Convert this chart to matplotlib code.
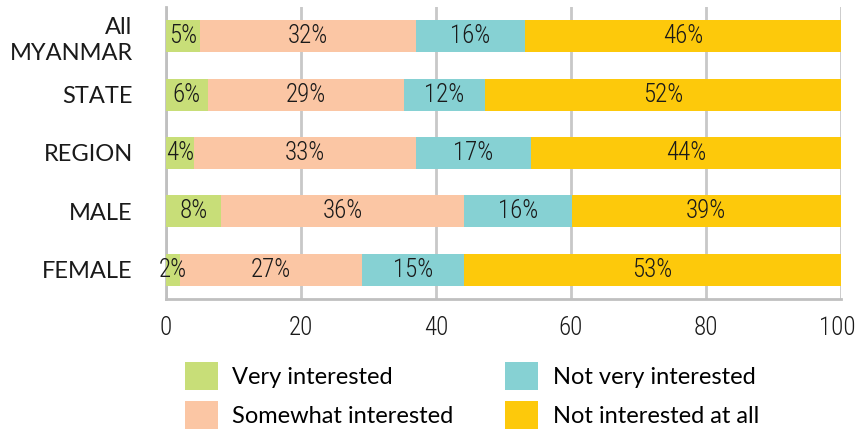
import matplotlib
matplotlib.use("Agg")
import matplotlib.pyplot as plt
import matplotlib.transforms as mtransforms
from matplotlib.patches import Patch
from matplotlib import font_manager as fm
import numpy as np

categories = ["All\nMYANMAR", "STATE", "REGION", "MALE", "FEMALE"]
series_names = ["Very interested", "Somewhat interested", "Not very interested", "Not interested at all"]
very = [5.1, 6.2, 4.2, 8.2, 2.1]
somewhat = [31.9, 29.0, 32.8, 36.0, 27.0]
not_very = [16.2, 12.0, 17.1, 15.9, 15.1]
not_at_all = [46.8, 52.8, 45.9, 39.9, 55.8]
very_lbl = ["5%", "6%", "4%", "8%", "2%"]
somewhat_lbl = ["32%", "29%", "33%", "36%", "27%"]
not_very_lbl = ["16%", "12%", "17%", "16%", "15%"]
not_at_all_lbl = ["46%", "52%", "44%", "39%", "53%"]
colors = ["#C8DE78", "#FBC6A4", "#86D1D3", "#FDC90B"]
xticks = [0, 20, 40, 60, 80, 100]

avail = {f.name for f in fm.fontManager.ttflist}
def pick(cands):
    for c in cands:
        if c in avail:
            return [c, "DejaVu Sans"]
    return ["DejaVu Sans"]

num_font = pick(["Avenir Next Condensed", "Roboto Condensed", "Barlow Semi Condensed",
                 "Asap Condensed", "Archivo Narrow", "Pragati Narrow", "Roboto"])
txt_font = pick(["Avenir Next", "Avenir", "Lato", "Nunito Sans"])
num_w = 300
txt_w = 400

fig = plt.figure(figsize=(8.55, 4.43), dpi=100)
ax = fig.add_axes([166/855, 1-299/443, (841-166)/855, 292/443])

y = np.arange(len(categories))
left = np.zeros(len(categories))
series = [very, somewhat, not_very, not_at_all]
labels = [very_lbl, somewhat_lbl, not_very_lbl, not_at_all_lbl]
handles = []
for vals, lbls, c, name in zip(series, labels, colors, series_names):
    vals = np.array(vals)
    ax.barh(y, vals, left=left, height=0.55, color=c, zorder=3)
    handles.append(Patch(facecolor=c, label=name))
    for yi, l, v, t in zip(y, left, vals, lbls):
        ax.text(l + v/2, yi, t, ha="center", va="center", fontsize=18, fontweight=num_w,
                family=num_font, color="#1a1a1a", zorder=4)
    left = left + vals

ax.set_xlim(0, 100)
ax.set_ylim(4.5, -0.5)
ax.set_xticks(xticks)
ax.set_xticklabels([str(t) for t in xticks], family=num_font, fontsize=18, fontweight=num_w, color="#1a1a1a")
ax.set_yticks(y)
ax.set_yticklabels(categories, family=txt_font, fontsize=17, fontweight=txt_w, color="#1a1a1a")
for t in ax.get_yticklabels():
    t.set_linespacing(1.3)
ax.tick_params(axis="x", length=0, pad=12)
ax.tick_params(axis="y", length=0, pad=24)
# keep the last tick label inside the canvas
last = ax.get_xticklabels()[-1]
last.set_transform(last.get_transform() + mtransforms.ScaledTranslation(-4/100, 0, fig.dpi_scale_trans))
ax.grid(axis="x", color="#c8c8c8", linewidth=2, zorder=0)
for s in ["top", "right"]:
    ax.spines[s].set_visible(False)
for s in ["left", "bottom"]:
    ax.spines[s].set_color("#c0c0c0")
    ax.spines[s].set_linewidth(2)

fig.legend(handles=handles, ncol=2, loc="upper left", bbox_to_anchor=(185/855, 1-362/443),
           frameon=False, borderpad=0, borderaxespad=0, handlelength=1.4, handleheight=1.44,
           handletextpad=0.6, columnspacing=2.2, labelspacing=0.47,
           prop={"family": txt_font, "size": 17, "weight": txt_w})

fig.savefig("out.png", dpi=100)
